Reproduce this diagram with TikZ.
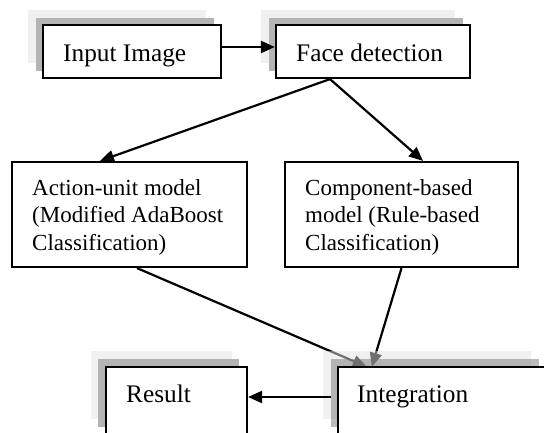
\documentclass[tikz,border=0pt]{standalone}
\usepackage{fontspec}
\setmainfont{Liberation Serif}
\usetikzlibrary{arrows.meta,calc}
\definecolor{shlight}{HTML}{F0F0F0}
\definecolor{shdark}{HTML}{B4B4B4}
\definecolor{shlightT}{HTML}{E1E1E1}
\definecolor{shdarkT}{HTML}{707070}
\begin{document}
\begin{tikzpicture}[x=1pt,y=-1pt,
  box/.style={draw=black, line width=2.2pt, fill=white, rectangle, inner sep=0pt},
  lbl/.style={anchor=base west, inner sep=0pt, font=\fontsize{25.3}{28}\selectfont, align=left},
  mlbl/.style={lbl, font=\fontsize{23}{27.5}\selectfont},
  arr/.style={line width=2.2pt, -{Triangle[length=14pt,width=12pt]}},
]
\useasboundingbox (0,0) rectangle (544,432);

% Input Image
\fill[shlight] (28,10) rectangle (206,63);
\fill[shdark] (36,18) rectangle (214,71);
\node[box, minimum width=178pt, minimum height=53pt] (input) at (132,51.5) {};
\node[lbl] (inputt) at (63,61) {Input Image};

% Face detection
\fill[shlight] (261,10) rectangle (455,63);
\fill[shdark] (269,18) rectangle (463,71);
\node[box, minimum width=194pt, minimum height=53pt] (face) at (373,51.5) {};
\node[lbl] (facet) at (296,61) {Face detection};

% Action-unit model
\node[box, minimum width=235pt, minimum height=105pt] (action) at (129.5,214.5) {};
\node[mlbl] (actiont) at (32,250) {Action-unit model\\(Modified AdaBoost\\Classification)};

% Component-based model
\node[box, minimum width=233pt, minimum height=105pt] (comp) at (401.5,214.5) {};
\node[mlbl] (compt) at (305,250) {Component-based\\model (Rule-based\\Classification)};

% Result
\fill[shlight] (91,351) rectangle (232,419);
\fill[shdark] (98,359) rectangle (239,427);
\node[box, minimum width=141pt, minimum height=68pt] (result) at (176.5,401) {};
\node[lbl] (resultt) at (126,402) {Result};

% Integration anchor node (box drawn after its shadows)
\path (442,401) node[minimum width=208pt, minimum height=68pt, inner sep=0pt] (integ) {};

% connectors
\draw[arr] ([yshift=4.5pt]input.east) -- ([yshift=4.5pt]face.west);
\draw[arr] ([xshift=-43pt]face.south) -- ([xshift=-29.5pt]action.north);
\draw[arr] ([xshift=-43pt]face.south) -- ([xshift=21.5pt]comp.north);
\draw[arr] ([xshift=7.5pt]action.south) -- ([xshift=29pt]integ.north west);
\draw[arr] (comp.south) -- ([xshift=34pt]integ.north west);

% Integration shadows over the arrow tips
\fill[shlightT, opacity=0.5] (323,351) rectangle (531,419);
\fill[shdarkT, opacity=0.47] (331,359) rectangle (539,427);
\node[box, minimum width=208pt, minimum height=68pt] (integbox) at (integ.center) {};
\node[lbl] (integt) at (357,402) {Integration};

\draw[arr] ([yshift=4pt,xshift=-7pt]integ.west) -- ([yshift=4pt]result.east);
\end{tikzpicture}
\end{document}
